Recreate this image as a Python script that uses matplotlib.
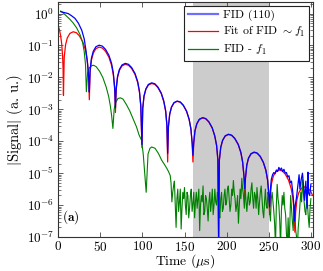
import numpy as np
import matplotlib
matplotlib.use('Agg')
import matplotlib.pyplot as plt
from matplotlib.lines import Line2D
from matplotlib.ticker import LogLocator, NullFormatter

plt.rcParams['font.family'] = ['cmr10', 'DejaVu Serif']
plt.rcParams['mathtext.fontset'] = 'cm'
plt.rcParams['axes.formatter.use_mathtext'] = True
plt.rcParams['font.size'] = 9.5

output_file = 'out.png'

# values, stored as log10(|signal|)
# FID (110)
fid_t = [3, 6, 9, 12, 16, 20, 24, 28, 31, 33, 35, 36.2, 37,
         37.9, 39.5, 41.7, 44.8, 48.7, 52.5, 56.2, 60.3, 63.4, 65.5, 67.1, 68,
         68.9, 70.5, 72.7, 75.8, 79.7, 83.5, 87.2, 91.3, 94.4, 96.5, 98.1, 99.5,
         100.4, 101.9, 104.1, 107.1, 111.0, 114.8, 118.4, 122.4, 125.4, 127.6, 129.1, 130,
         130.9, 132.4, 134.5, 137.5, 141.3, 145, 148.6, 152.5, 155.5, 157.6, 159.1, 160,
         160.9, 162.4, 164.6, 167.6, 171.5, 175.25, 178.9, 182.9, 185.9, 188.1, 189.6, 190.5,
         191.4, 193.0, 195.2, 198.3, 202.2, 206.0, 209.7, 213.8, 216.9, 219.0, 220.6, 221.5,
         222.4, 223.9, 225.9, 228.9, 232.7, 236.25, 239.8, 243.6, 246.6, 248.6, 250.1, 251,
         252, 253, 254.5, 256, 257.5, 259, 260.5, 262, 263.5, 265, 266.5, 268, 269.5, 271,
         272.5, 274, 275.5, 277, 278.5, 279.5, 280.5, 281.5,
         283, 284.5, 286, 287, 288.5, 290, 291, 292.5, 294, 295.5, 296.5, 297, 298.5, 300]
fid_exp = [0.06, 0.04, 0.02, 0.0, -0.07, -0.15, -0.3, -0.52, -0.8, -1.15, -1.6, -2.0, -2.46,
           -1.79, -1.40, -1.18, -1.04, -0.99, -1.02, -1.12, -1.31, -1.56, -1.86, -2.31, -2.95,
           -2.36, -1.97, -1.75, -1.61, -1.56, -1.59, -1.69, -1.88, -2.13, -2.43, -2.88, -4.1,
           -2.97, -2.58, -2.36, -2.22, -2.17, -2.20, -2.30, -2.49, -2.74, -3.04, -3.49, -4.38,
           -3.54, -3.15, -2.93, -2.79, -2.74, -2.77, -2.87, -3.06, -3.31, -3.61, -4.06, -4.44,
           -4.06, -3.67, -3.45, -3.31, -3.26, -3.29, -3.39, -3.58, -3.83, -4.13, -4.58, -7.2,
           -4.58, -4.19, -3.97, -3.83, -3.78, -3.81, -3.91, -4.10, -4.35, -4.65, -5.10, -5.48,
           -5.14, -4.75, -4.53, -4.39, -4.34, -4.37, -4.47, -4.66, -4.91, -5.21, -5.66, -6.06,
           -5.5, -5.2, -5.05, -4.98, -5.02, -4.9, -4.95, -4.82, -4.9, -4.84, -4.95, -4.88, -5.0, -4.98,
           -5.12, -5.08, -5.3, -5.25, -5.6, -5.9, -6.5, -6.0,
           -5.75, -5.4, -5.05, -5.5, -5.2, -5.0, -5.3, -5.85, -5.25, -6.1, -4.97, -5.6, -5.7, -5.35]

# Fit of FID ~ f1
fit_t = [0, 1.5, 3, 4.3, 5.3, 5.9, 6.3,
         7.2, 8.8, 10.9, 14.0, 17.9, 21.65, 25.3, 29.3, 32.4, 34.5, 36.1, 37,
         37.9, 39.5, 41.7, 44.8, 48.7, 52.5, 56.2, 60.3, 63.4, 65.5, 67.1, 68,
         68.9, 70.5, 72.7, 75.8, 79.7, 83.5, 87.2, 91.3, 94.4, 96.5, 98.1, 99.5,
         100.4, 101.9, 104.1, 107.1, 111.0, 114.8, 118.4, 122.4, 125.4, 127.6, 129.1, 130,
         130.9, 132.4, 134.5, 137.5, 141.3, 145, 148.6, 152.5, 155.5, 157.6, 159.1, 160,
         160.9, 162.4, 164.6, 167.6, 171.5, 175.25, 178.9, 182.9, 185.9, 188.1, 189.6, 190.5,
         191.4, 193.0, 195.2, 198.3, 202.2, 206.0, 209.7, 213.8, 216.9, 219.0, 220.6, 221.5,
         222.4, 223.9, 225.9, 228.9, 232.7, 236.25, 239.8, 243.6, 246.6, 248.6, 250.1, 251,
         251.9, 253.4, 255.5, 258.5, 262.3, 266, 269.6, 273.5, 276.5, 278.6, 280.1, 281,
         281.9, 283.4, 285.5, 288.5, 292.3, 296, 299.6, 302]
fit_exp = [-0.39, -0.5, -0.7, -0.97, -1.35, -1.75, -2.56,
           -1.37, -0.98, -0.76, -0.62, -0.57, -0.60, -0.70, -0.89, -1.14, -1.44, -1.89, -2.7,
           -1.85, -1.46, -1.24, -1.10, -1.05, -1.08, -1.18, -1.37, -1.62, -1.92, -2.37, -3.1,
           -2.39, -2.0, -1.78, -1.64, -1.59, -1.62, -1.72, -1.91, -2.16, -2.46, -2.91, -4.2,
           -2.99, -2.60, -2.38, -2.24, -2.19, -2.22, -2.32, -2.51, -2.76, -3.06, -3.51, -4.65,
           -3.55, -3.16, -2.94, -2.80, -2.75, -2.78, -2.88, -3.07, -3.32, -3.62, -4.07, -4.65,
           -4.07, -3.68, -3.46, -3.32, -3.27, -3.30, -3.40, -3.59, -3.84, -4.14, -4.59, -7.2,
           -4.59, -4.20, -3.98, -3.84, -3.79, -3.82, -3.92, -4.11, -4.36, -4.66, -5.11, -5.75,
           -5.15, -4.76, -4.54, -4.40, -4.35, -4.38, -4.48, -4.67, -4.92, -5.22, -5.67, -6.3,
           -5.70, -5.31, -5.09, -4.95, -4.90, -4.93, -5.03, -5.22, -5.47, -5.77, -6.22, -6.85,
           -6.23, -5.84, -5.62, -5.48, -5.43, -5.46, -5.56, -5.7]

# FID - f1
res_t = [3, 6, 10, 14, 18, 22, 26, 29, 31, 32.5, 33.5, 35, 37, 40, 42, 45, 49, 53, 57,
         60, 62, 63.5, 65, 66.5, 68, 71, 74, 77, 81, 85, 89, 93, 96, 99, 101, 104.5,
         106.7, 109, 111, 115, 119, 123, 126, 129, 131, 133,
         134, 135, 136, 137, 138, 139, 140, 141, 142, 143, 144, 145, 146, 147, 148, 149,
         150, 151, 152, 153, 154, 155, 156, 157, 158, 159, 160, 161, 162, 163, 164, 165,
         166, 167, 168, 169, 170, 171, 172, 173, 174, 175, 176, 177, 178, 179, 180, 181,
         182, 183, 184, 185, 186, 187, 188, 189, 190, 191, 192, 193, 194, 195, 196, 197,
         198, 199, 200, 201, 202, 203, 204, 205, 206, 207, 208, 209, 210, 211, 212, 213,
         214, 215, 216, 217, 218, 219, 220, 221, 222, 223, 224, 225, 226, 227, 228, 229,
         230, 231, 232, 233, 234, 235, 236, 237, 238, 239, 240, 241, 242, 243, 244, 245,
         246, 247, 248, 249, 250, 251, 252, 253, 254, 255, 256, 257, 258, 259, 260, 261,
         262, 263, 264, 265, 266, 267, 268, 269, 270, 271, 272, 273, 274, 275, 276, 277,
         278, 279, 280, 281, 282, 283, 284, 285, 286, 287, 288, 289, 290, 291, 292, 293,
         294, 295, 296, 297, 298, 299, 300]
res_exp = [0.08, 0.02, -0.08, -0.18, -0.3, -0.45, -0.66, -0.9, -1.2, -1.6, -2.45, -1.85, -1.7,
           -1.63, -1.62, -1.66, -1.8, -2.0, -2.3, -2.6, -2.9, -3.2, -3.6, -3.0, -2.8, -2.66,
           -2.64, -2.68, -2.85, -3.05, -3.3, -3.55, -3.8, -3.97, -4.4, -5.6,
           -4.4, -4.22, -4.18, -4.22, -4.38, -4.6, -4.72, -4.85, -4.95, -5.07,
           -5.3, -5.9, -5.6, -5.4, -5.25, -6.0, -6.7, -5.8, -5.5, -6.2, -5.9, -5.5, -6.75, -6.1,
           -5.6, -5.8, -5.45, -6.0, -6.3, -5.6, -5.7, -6.4, -6.1, -5.7, -5.5, -6.2, -5.95, -5.6,
           -6.4, -5.9, -5.6, -6.1, -5.8, -5.5, -6.8, -6.0, -5.7, -5.9, -5.4, -6.3, -6.2, -5.7,
           -5.8, -6.1, -6.5, -5.9, -5.6, -6.2, -5.9, -5.5, -6.3, -6.0, -5.5, -5.9, -6.0, -5.6,
           -5.7, -6.3, -6.4, -5.8, -5.6, -6.2, -6.1, -5.7, -5.5, -6.0, -5.9, -5.5, -5.4, -5.8,
           -6.2, -6.0, -5.5, -5.7, -5.23, -5.6, -5.8, -6.2, -6.0, -5.7, -6.57, -6.0, -5.5, -5.8,
           -5.16, -5.5, -5.7, -6.1, -5.4, -5.9, -6.2, -5.8, -5.6, -6.0, -5.9, -5.5, -5.3, -5.8,
           -6.1, -5.6, -5.7, -6.1, -5.45, -5.8, -6.3, -5.9, -5.6, -5.4, -5.8, -6.2, -6.4, -5.9,
           -5.5, -6.0, -6.1, -5.6, -5.7, -6.2, -6.5, -5.8, -5.6, -5.9, -6.2, -6.6, -7.3, -6.0,
           -5.35, -5.8, -6.0, -6.5, -7.3, -6.2, -5.7, -6.0, -5.6, -6.1, -6.3, -6.9, -7.3, -6.4,
           -7.3, -6.6, -5.7, -6.1, -6.5, -6.8, -6.0, -6.4, -6.8, -7.0, -7.3, -6.7, -6.4, -6.0,
           -5.6, -5.9, -5.2, -5.6, -5.9, -6.2, -6.3, -5.8, -6.0, -6.4, -6.7, -6.1, -5.8]

band = (160, 250)

fid = 10.0 ** np.array(fid_exp)
fit = 10.0 ** np.array(fit_exp)
res = 10.0 ** np.array(res_exp)

fig = plt.figure(figsize=(3.23, 2.71), dpi=100)
ax = fig.add_axes([0.18, 0.1255, 0.789, 0.867])

ax.axvspan(band[0], band[1], color='#cccccc', lw=0, zorder=0)
ax.plot(fit_t, fit, color='red', lw=0.9, zorder=2)
ax.plot(res_t, res, color='#008000', lw=0.8, zorder=3)
ax.plot(fid_t, fid, color='blue', lw=0.9, zorder=4)

ax.set_yscale('log')
ax.set_xlim(0, 302.5)
ax.set_ylim(1e-7, 2.3)
ax.set_xticks([0, 50, 100, 150, 200, 250, 300])
ax.yaxis.set_major_locator(LogLocator(base=10, numticks=20))
ax.yaxis.set_minor_locator(LogLocator(base=10, subs=np.arange(2, 10), numticks=20))
ax.yaxis.set_minor_formatter(NullFormatter())
ax.tick_params(which='both', direction='in', top=True, right=True, color='#444444')
ax.tick_params(which='major', length=3.5, width=0.6, pad=3)
ax.tick_params(axis='x', which='major', pad=2)
ax.tick_params(which='minor', length=2, width=0.5)
for axis in ['top', 'bottom', 'left', 'right']:
  ax.spines[axis].set_linewidth(0.8)
  ax.spines[axis].set_color('#333333')

ax.set_xlabel(r'Time ($\mu$s)', labelpad=-1, fontsize=9.8)
ax.set_ylabel(r'$|$Signal$|$ (a. u.)', labelpad=1, fontsize=10.5)
ax.text(5, 2.2e-7, r'($\mathbf{a}$)', fontsize=9.5, va='bottom', ha='left')

handles = [Line2D([], [], color='#6f6fff', lw=1.6),
           Line2D([], [], color='red', lw=0.9),
           Line2D([], [], color='#008000', lw=0.9)]
labels = ['FID (110)', r'Fit of FID $\sim f_1$', r'FID - $f_1$']
legend = ax.legend(handles, labels, loc='upper right', fancybox=False,
                   framealpha=1, edgecolor='#222222', handlelength=2.6,
                   borderaxespad=0.35, labelspacing=0.35, handletextpad=0.4,
                   borderpad=0.3, fontsize=8.5)
legend.get_frame().set_linewidth(0.8)

plt.savefig(output_file, dpi=100)
print('Saved to', output_file)
